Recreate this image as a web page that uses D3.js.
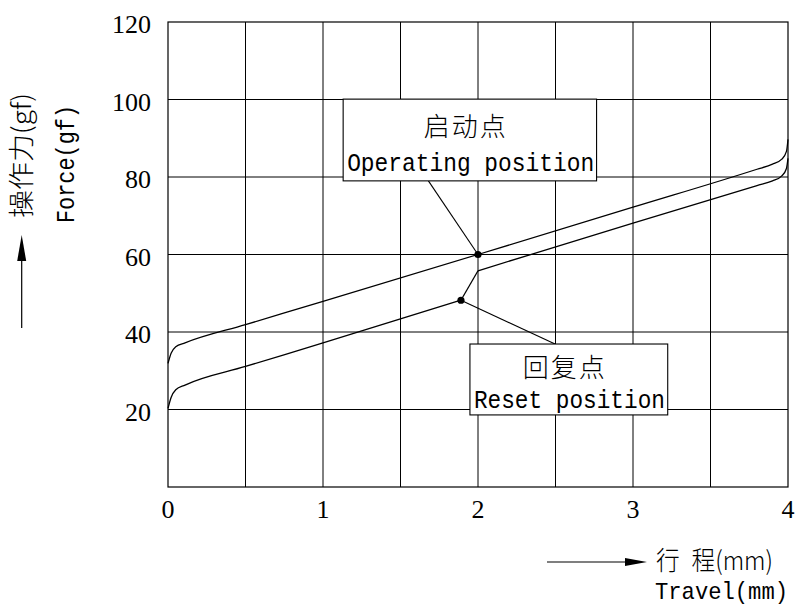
<!DOCTYPE html>
<html>
<head>
<meta charset="utf-8">
<script src="https://cdn.jsdelivr.net/npm/d3@7"></script>
<style>
  body { margin: 0; background: #fff; }
</style>
</head>
<body>
<div id="chart"></div>
<script>
// Force vs travel of a key switch (gf / mm)
const xTicks = [0, 1, 2, 3, 4];
const yTicks = [20, 40, 60, 80, 100, 120];
const xGrid = [0.5, 1, 1.5, 2, 2.5, 3, 3.5];
const yGrid = [20, 40, 60, 80, 100];

// pressing stroke
const pressCurve = [
  [0, 31.9], [0.02, 34.5], [0.05, 36.2], [0.11, 37.2], [0.5, 41.9], [1, 47.9],
  [2, 60], [3, 72.2], [3.8, 82], [3.9, 83.3], [3.96, 84.6], [3.99, 86.6], [4, 89.7]
];
// return stroke, below and above the snap
const returnLow = [
  [0, 20.3], [0.02, 23.1], [0.05, 25.1], [0.11, 26.3], [0.5, 31.1], [1, 37.2], [1.89, 48.2]
];
const returnHigh = [
  [2, 55.8], [3, 68.1], [3.8, 77.8], [3.9, 79], [3.96, 80.3], [3.99, 82.2], [4, 84.8]
];

const keyPoints = [
  { zh: "启动点", en: "Operating position", x: 2, y: 60 },
  { zh: "回复点", en: "Reset position", x: 1.89, y: 48.2 }
];

// set the dimensions and margins of the graph
var canvas_width = 796,
  canvas_height = 609;
var margin = { top: 22, right: 8, bottom: 122, left: 168 },
  plot_width = canvas_width - margin.left - margin.right,
  plot_height = canvas_height - margin.top - margin.bottom;

const x = d3.scaleLinear().domain([0, 4]).range([margin.left, margin.left + plot_width]);
const y = d3.scaleLinear().domain([0, 120]).range([margin.top + plot_height, margin.top]);

const svg = d3.select("#chart")
  .append("svg")
  .attr("width", canvas_width)
  .attr("height", canvas_height)
  .attr("viewBox", [0, 0, canvas_width, canvas_height]);

const serif = "'Liberation Serif', 'Times New Roman', serif";
const mono = "'Liberation Mono', 'DejaVu Sans Mono', monospace";
const cjk = "'Noto Sans CJK SC', sans-serif";

// grid
svg.append("g").selectAll("line")
  .data(xGrid)
  .join("line")
  .attr("x1", d => x(d)).attr("x2", d => x(d))
  .attr("y1", y(0)).attr("y2", y(120))
  .attr("stroke", "#000").attr("stroke-width", 1);

svg.append("g").selectAll("line")
  .data(yGrid)
  .join("line")
  .attr("x1", x(0)).attr("x2", x(4))
  .attr("y1", d => y(d)).attr("y2", d => y(d))
  .attr("stroke", "#000").attr("stroke-width", 1);

svg.append("rect")
  .attr("x", x(0)).attr("y", y(120))
  .attr("width", x(4) - x(0)).attr("height", y(0) - y(120))
  .attr("fill", "none").attr("stroke", "#000").attr("stroke-width", 1.2);

// tick labels
svg.append("g").selectAll("text")
  .data(xTicks)
  .join("text")
  .attr("x", d => x(d))
  .attr("y", y(0) + 31)
  .attr("text-anchor", "middle")
  .attr("font-family", serif)
  .attr("font-size", 26)
  .text(d => d);

svg.append("g").selectAll("text")
  .data(yTicks)
  .join("text")
  .attr("x", x(0) - 17)
  .attr("y", d => y(d) + 11)
  .attr("text-anchor", "end")
  .attr("font-family", serif)
  .attr("font-size", 26)
  .text(d => d);

// curves
const line = d3.line()
  .x(d => x(d[0]))
  .y(d => y(d[1]))
  .curve(d3.curveMonotoneX);

[pressCurve, returnLow, returnHigh].forEach(s => {
  svg.append("path").datum(s)
    .attr("d", line)
    .attr("fill", "none").attr("stroke", "#000").attr("stroke-width", 1.3);
});

// snap between the two return pieces
svg.append("line")
  .attr("x1", x(returnLow[returnLow.length - 1][0]))
  .attr("y1", y(returnLow[returnLow.length - 1][1]))
  .attr("x2", x(returnHigh[0][0]))
  .attr("y2", y(returnHigh[0][1]))
  .attr("stroke", "#000").attr("stroke-width", 1.3);

// callouts: box in data units [x0, x1, yTop, yBottom] and leader end
const calloutLayout = [
  { box: [1.13, 2.765, 100.1, 79], leader: [1.68, 79], zhY: 37, enY: 72, enLen: 247 },
  { box: [1.948, 3.224, 36.9, 18.6], leader: [2.497, 36.9], zhY: 33, enY: 64, enLen: 191 }
];

keyPoints.forEach((p, i) => {
  const c = calloutLayout[i];
  svg.append("line")
    .attr("x1", x(p.x)).attr("y1", y(p.y))
    .attr("x2", x(c.leader[0])).attr("y2", y(c.leader[1]))
    .attr("stroke", "#000").attr("stroke-width", 1.1);

  const bx = x(c.box[0]), by = y(c.box[2]);
  const bw = x(c.box[1]) - bx, bh = y(c.box[3]) - by;
  svg.append("rect")
    .attr("x", bx).attr("y", by).attr("width", bw).attr("height", bh)
    .attr("fill", "#fff").attr("stroke", "#000").attr("stroke-width", 1.1);

  svg.append("text")
    .attr("x", bx + bw / 2 - 4)
    .attr("y", by + c.zhY)
    .attr("text-anchor", "middle")
    .attr("font-family", cjk)
    .attr("font-weight", 300)
    .attr("font-size", 26)
    .attr("letter-spacing", 2)
    .text(p.zh);

  svg.append("text")
    .attr("x", bx + 4)
    .attr("y", by + c.enY)
    .attr("font-family", mono)
    .attr("font-size", 25)
    .attr("textLength", c.enLen)
    .attr("lengthAdjust", "spacingAndGlyphs")
    .text(p.en);
});

svg.append("g").selectAll("circle")
  .data(keyPoints)
  .join("circle")
  .attr("cx", d => x(d.x))
  .attr("cy", d => y(d.y))
  .attr("r", 3.6)
  .attr("fill", "#000");

// axis titles with arrows
const xa = 562;
svg.append("line")
  .attr("x1", 547).attr("y1", xa).attr("x2", 628).attr("y2", xa)
  .attr("stroke", "#000").attr("stroke-width", 1.2);
svg.append("path")
  .attr("d", `M${625},${xa - 4}L${647},${xa}L${625},${xa + 4}Z`)
  .attr("fill", "#000");

svg.append("text")
  .attr("x", 656).attr("y", 570)
  .attr("font-family", cjk)
  .attr("font-weight", 300)
  .attr("font-size", 26)
  .attr("textLength", 117)
  .attr("lengthAdjust", "spacingAndGlyphs")
  .text("行\u2002程(mm)");

svg.append("text")
  .attr("x", 655).attr("y", 599)
  .attr("font-family", mono)
  .attr("font-size", 24)
  .attr("textLength", 133)
  .attr("lengthAdjust", "spacingAndGlyphs")
  .text("Travel(mm)");

const ya = 21.7;
svg.append("line")
  .attr("x1", ya).attr("y1", 328).attr("x2", ya).attr("y2", 258)
  .attr("stroke", "#000").attr("stroke-width", 1.2);
svg.append("path")
  .attr("d", `M${ya - 4.5},${261}L${ya},${235}L${ya + 4.5},${261}Z`)
  .attr("fill", "#000");

svg.append("text")
  .attr("transform", "translate(31,218) rotate(-90)")
  .attr("font-family", cjk)
  .attr("font-weight", 300)
  .attr("font-size", 26)
  .attr("textLength", 125)
  .attr("lengthAdjust", "spacingAndGlyphs")
  .text("操作力(gf)");

svg.append("text")
  .attr("transform", "translate(74,223) rotate(-90)")
  .attr("font-family", mono)
  .attr("font-size", 25)
  .attr("textLength", 118)
  .attr("lengthAdjust", "spacingAndGlyphs")
  .text("Force(gf)");
</script>
</body>
</html>
